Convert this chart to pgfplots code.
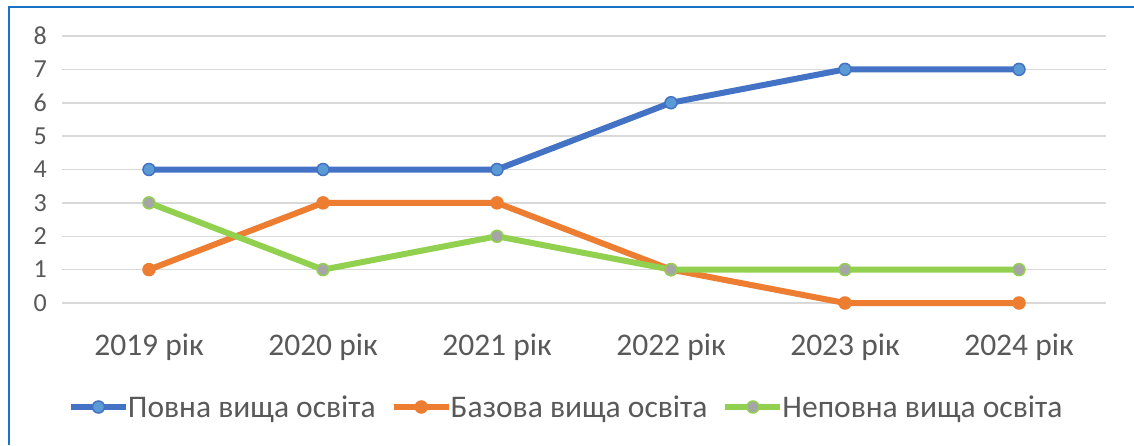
\documentclass[border=0pt]{standalone}
\usepackage{pgfplots}
\pgfplotsset{compat=1.18}
\usepackage{fontspec}
\setmainfont{Carlito}
\definecolor{cblue}{HTML}{4472C4}
\definecolor{cbluef}{HTML}{5B9BD5}
\definecolor{corange}{HTML}{ED7D31}
\definecolor{cgreen}{HTML}{92D050}
\definecolor{cgray}{HTML}{A5A5A5}
\definecolor{cgrid}{HTML}{D9D9D9}
\definecolor{txt}{HTML}{595959}
\definecolor{frame}{HTML}{1A74C6}
\begin{document}
\begin{tikzpicture}[x=1pt,y=1pt]
\path[use as bounding box,fill=white] (0,0) rectangle (1134,445);
\draw[frame,line width=2pt] (9,0) -- (9,438) -- (1134,438);
\begin{axis}[
  at={(62pt,142pt)}, anchor=south west,
  scale only axis, width=1044pt, height=267pt,
  xmin=-0.5, xmax=5.5, ymin=0, ymax=8,
  clip=false,
  axis line style={draw=none},
  major tick length=0pt,
  xmajorgrids=false,
  ymajorgrids, grid style={line width=1.5pt, cgrid},
  xtick={0,1,2,3,4,5},
  xticklabels={2019 рік,2020 рік,2021 рік,2022 рік,2023 рік,2024 рік},
  ytick={0,1,2,3,4,5,6,7,8},
  xticklabel style={anchor=base, yshift=-52pt, inner sep=0pt, font=\fontsize{31.5}{36}\selectfont, text=txt},
  yticklabel style={anchor=east, xshift=-15pt, inner sep=0pt, font=\fontsize{26}{30}\selectfont, text=txt},
  /pgf/number format/assume math mode=true,
  legend columns=3,
  legend style={at={(axis description cs:0.0057,-0.3895)}, anchor=west, draw=none, fill=none,
    inner sep=0pt, outer sep=0pt,
    nodes={inner sep=0pt, font=\fontsize{31.5}{36}\selectfont, text=txt},
    /tikz/every odd column/.append style={column sep=-1pt},
    /tikz/every even column/.append style={column sep=15pt}},
  legend image code/.code={\draw[mark repeat=2,mark phase=2] plot coordinates {(0pt,0pt)(27.5pt,0pt)(55pt,0pt)};},
]
\addplot[cblue, line width=6pt, mark=*, mark size=6pt, mark options={fill=cbluef, draw=cblue, line width=1.5pt}]
  coordinates {(0,4)(1,4)(2,4)(3,6)(4,7)(5,7)};
\addlegendentry{Повна вища освіта}
\addplot[corange, line width=6pt, mark=*, mark size=6pt, mark options={fill=corange, draw=corange, line width=1.5pt}]
  coordinates {(0,1)(1,3)(2,3)(3,1)(4,0)(5,0)};
\addlegendentry{Базова вища освіта}
\addplot[cgreen, line width=6pt, mark=*, mark size=6pt, mark options={fill=cgray, draw=cgreen, line width=1.5pt}]
  coordinates {(0,3)(1,1)(2,2)(3,1)(4,1)(5,1)};
\addlegendentry{Неповна вища освіта}
\end{axis}
\end{tikzpicture}
\end{document}
